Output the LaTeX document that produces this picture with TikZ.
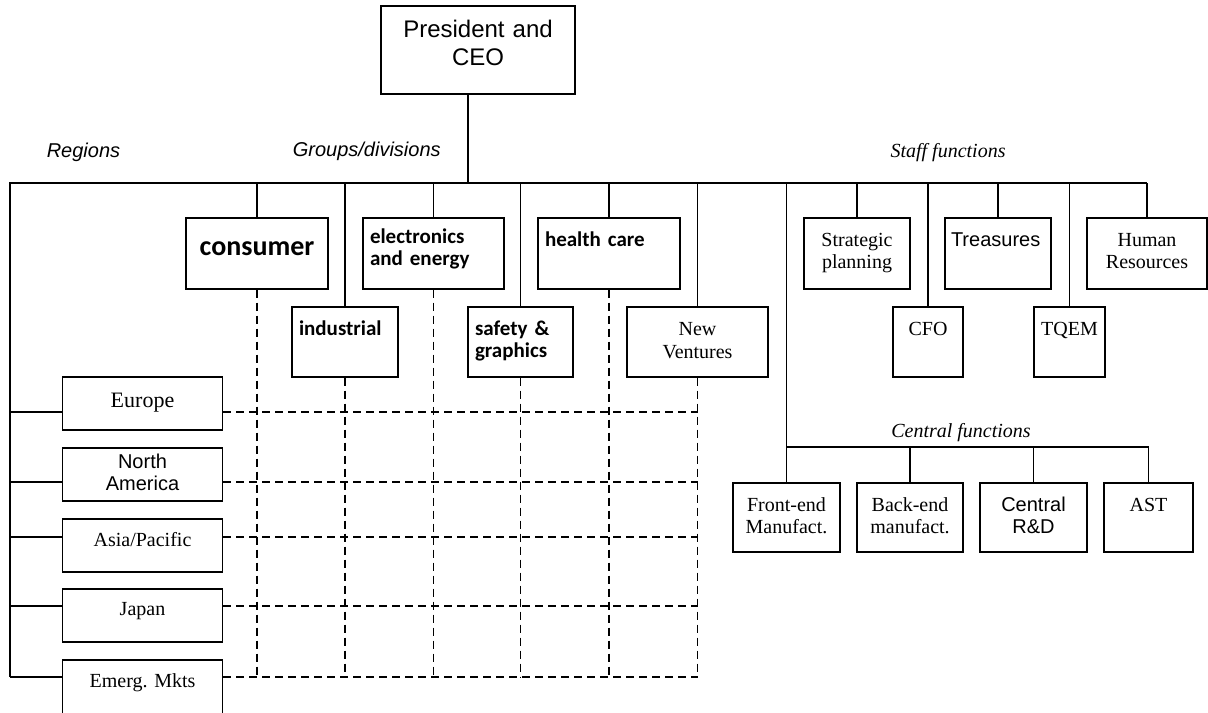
\documentclass[tikz,border=0pt]{standalone}
\usepackage{fontspec}
\setmainfont{Liberation Serif}
\newfontfamily\arialfont{Liberation Sans}
\newfontfamily\calibrifont{Carlito}
\begin{document}
\begin{tikzpicture}[x=0.5pt,y=-0.5pt,line width=0.8pt,
                    font=\fontsize{10}{11}\selectfont]
  \tikzstyle{box}=[draw,inner sep=0pt,align=center]
  \tikzstyle{topbox}=[box,anchor=north,minimum height=35.5pt,text height=14.5pt,text depth=21pt]
  \tikzstyle{lowbox}=[box,anchor=north,minimum height=35pt,text height=14.5pt,text depth=20.5pt]
  \tikzstyle{cfbox}=[box,anchor=north,minimum height=34.5pt,text height=14.5pt,text depth=20pt]
  \tikzstyle{regbox}=[box,anchor=north,text width=80pt,minimum height=26.5pt]
  \tikzstyle{boldtxt}=[font=\calibrifont\bfseries\fontsize{10.5}{11}\selectfont,align=left,inner xsep=3.5pt]
  \tikzstyle{sanstxt}=[font=\arialfont\fontsize{10}{11}\selectfont]
  \tikzstyle{heading}=[inner sep=0pt,anchor=base]
  \tikzstyle{dashline}=[dash pattern=on 4pt off 2.5pt]

  \useasboundingbox (0,0) rectangle (1208,712);

  \node[box,anchor=north,text width=97pt,text height=16pt,text depth=28pt,
        font=\arialfont\fontsize{12}{14}\selectfont] (CEO) at (478,5) {President and\\CEO};

  \node[heading,anchor=base west,font=\arialfont\itshape\fontsize{10}{12}\selectfont] (REGIONS) at (46,157) {Regions};
  \node[heading,anchor=base west,font=\arialfont\itshape\fontsize{10}{12}\selectfont] (GROUPS) at (292,156) {Groups/divisions};
  \node[heading,font=\itshape\fontsize{10}{12}\selectfont] (STAFF) at (948,157) {Staff functions};
  \node[heading,font=\itshape\fontsize{10}{12}\selectfont] (CENTRAL) at (961,437) {Central functions};

  \node[topbox,boldtxt,text width=71pt,align=center,inner xsep=0pt,text height=19pt,text depth=16.5pt,
        font=\calibrifont\bfseries\fontsize{14}{16}\selectfont] (CONSUMER) at (257,217) {consumer};
  \node[topbox,boldtxt,text width=63.5pt,text height=13pt,text depth=22.5pt] (ELECTRONICS) at (433.5,217) {electronics\\and energy};
  \node[topbox,boldtxt,text width=64pt] (HEALTH) at (609,217) {health care};
  \node[lowbox,boldtxt,text width=46pt] (INDUSTRIAL) at (345,306) {industrial};
  \node[lowbox,boldtxt,text width=45.5pt] (SAFETY) at (520.5,306) {safety \&\\graphics};
  \node[lowbox,text width=70.5pt,font=\fontsize{10}{11.5}\selectfont] (VENTURES) at (697.5,306) {New\\Ventures};

  \node[topbox,text width=53pt] (STRATEGIC) at (857,217) {Strategic\\planning};
  \node[topbox,sanstxt,align=left,inner xsep=3pt,text width=47pt] (TREASURES) at (998,217) {Treasures};
  \node[topbox,text width=60pt] (HR) at (1147,217) {Human\\Resources};
  \node[lowbox,text width=35pt] (CFO) at (928,306) {CFO};
  \node[lowbox,text width=35.5pt] (TQEM) at (1069.5,306) {TQEM};

  \node[regbox,text height=15.5pt,text depth=11pt,font=\fontsize{11}{12}\selectfont] (EUROPE) at (142.5,376) {Europe};
  \node[regbox,sanstxt,text height=10.5pt,text depth=16pt] (NAMERICA) at (142.5,447) {North\\America};
  \node[regbox,text height=14pt,text depth=12.5pt] (ASIA) at (142.5,518) {Asia/Pacific};
  \node[regbox,text height=13.5pt,text depth=13pt] (JAPAN) at (142.5,588) {Japan};
  \node[regbox,text height=14pt,text depth=22pt,minimum height=36pt] (EMERGING) at (142.5,659) {Emerg.\ Mkts};

  \node[cfbox,text width=53.5pt] (FRONTEND) at (786.5,482) {Front-end\\Manufact.};
  \node[cfbox,text width=53pt] (BACKEND) at (910,482) {Back-end\\manufact.};
  \node[cfbox,sanstxt,text width=53.5pt] (RANDD) at (1033.5,482) {Central\\R\&D};
  \node[cfbox,text width=44.5pt] (AST) at (1148.5,482) {AST};

  \coordinate (TOP) at (468,183);
  \coordinate (BUSL) at (10,183);
  \coordinate (BUSR) at (HR.north |- TOP);
  \coordinate (SPINE) at (FRONTEND.north |- TOP);
  \coordinate (CBUS) at (786.5,447);
  \coordinate (ROWA) at (10,412);
  \coordinate (ROWB) at (10,482);
  \coordinate (ROWC) at (10,537);
  \coordinate (ROWD) at (10,606);
  \coordinate (ROWE) at (10,677);

  \draw (TOP |- CEO.south) -- (TOP);
  \draw (BUSR) -- (BUSL) -- (ROWE);
  \foreach \n in {CONSUMER,INDUSTRIAL,ELECTRONICS,SAFETY,HEALTH,VENTURES,STRATEGIC,CFO,TREASURES,TQEM,HR}
    \draw (\n.north) -- (\n.north |- TOP);
  \draw (SPINE) -- (FRONTEND.north);
  \draw (CBUS) -- (CBUS -| AST.north);
  \foreach \n in {BACKEND,RANDD,AST}
    \draw (\n.north) -- (\n.north |- CBUS);

  \foreach \r/\n in {ROWA/EUROPE,ROWB/NAMERICA,ROWC/ASIA,ROWD/JAPAN,ROWE/EMERGING}{
    \draw (\r) -- (\r -| \n.west);
    \draw[dashline] (\r -| \n.east) -- (\r -| VENTURES.south);
  }
  \foreach \n in {CONSUMER,INDUSTRIAL,ELECTRONICS,SAFETY,HEALTH,VENTURES}
    \draw[dashline] (\n.south) -- (\n.south |- ROWE);
\end{tikzpicture}
\end{document}
